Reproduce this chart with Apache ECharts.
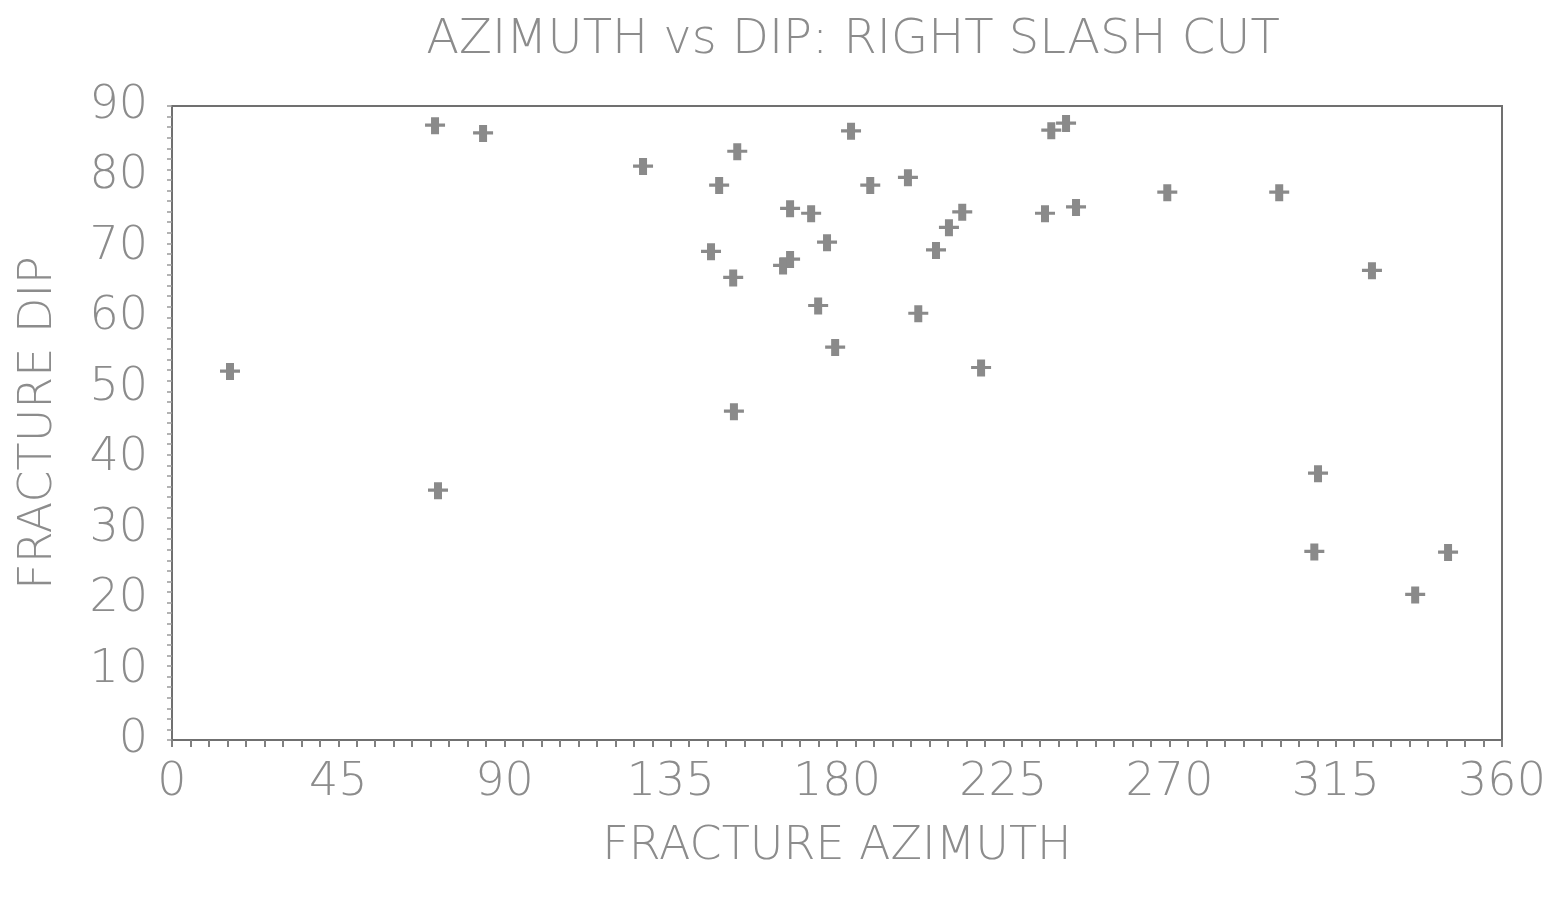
<!DOCTYPE html>
<html><head><meta charset="utf-8">
<script src="https://cdn.jsdelivr.net/npm/echarts@6/dist/echarts.min.js"></script>
<style>html,body{margin:0;padding:0;background:#fff}#c{width:1567px;height:898px}</style>
</head><body><div id="c"></div>
<script>
const azimuth = [15.7, 71.2, 84.2, 72.0, 127.5, 148.1, 153.0, 145.9, 151.9, 152.1,
  167.3, 173.0, 165.4, 167.3, 177.3, 174.9, 179.5, 183.8, 189.0, 199.2,
  206.8, 210.3, 213.9, 202.0, 219.0, 236.3, 238.0, 242.0, 244.7, 269.4,
  299.7, 324.8, 310.2, 309.2, 336.5, 345.4];
const dip = [52.3, 87.2, 86.1, 35.4, 81.4, 78.7, 83.5, 69.3, 65.6, 46.6,
  75.4, 74.7, 67.3, 68.2, 70.6, 61.6, 55.7, 86.4, 78.7, 79.8,
  69.5, 72.7, 74.9, 60.5, 52.8, 74.7, 86.5, 87.5, 75.6, 77.7,
  77.7, 66.6, 37.8, 26.7, 20.6, 26.6];
const xTickLabels = [0, 45, 90, 135, 180, 225, 270, 315, 360];
const yTickLabels = [0, 10, 20, 30, 40, 50, 60, 70, 80, 90];

const points = azimuth.map((a, i) => [a, dip[i]]);
const font = 'DejaVu Sans';
const fw = 200;
const txt = '#8c8c8c';
const chart = echarts.init(document.getElementById('c'));
chart.setOption({
  animation: false,
  backgroundColor: '#ffffff',
  title: {
    text: 'AZIMUTH vs DIP: RIGHT SLASH CUT',
    left: 848, top: 12, textAlign: 'center',
    textStyle: { fontFamily: font, fontSize: 48, fontWeight: fw, color: txt }
  },
  grid: { left: 172, right: 65, top: 106, bottom: 158, show: true,
    borderColor: '#707070', borderWidth: 2, backgroundColor: 'transparent' },
  xAxis: [{
    type: 'value', min: 0, max: 360, interval: 45,
    name: 'FRACTURE AZIMUTH', nameLocation: 'middle', nameGap: 84,
    nameTextStyle: { fontFamily: font, fontSize: 46, fontWeight: fw, color: txt },
    axisLine: { show: true, lineStyle: { color: '#707070', width: 2 } },
    axisTick: { show: false },
    axisLabel: { fontFamily: font, fontSize: 46, fontWeight: fw, color: txt, margin: 20,
      formatter: v => xTickLabels.includes(v) ? String(v) : '' },
    splitLine: { show: false }
  }, {
    type: 'value', min: 0, max: 360, interval: 5, position: 'bottom',
    axisLine: { show: false },
    axisTick: { show: true, length: 7, lineStyle: { color: '#808080', width: 2 } },
    axisLabel: { show: false }, splitLine: { show: false }
  }],
  yAxis: [{
    type: 'value', min: 0, max: 90, interval: 10,
    name: 'FRACTURE DIP', nameLocation: 'middle', nameGap: 110,
    nameTextStyle: { fontFamily: font, fontSize: 46, fontWeight: fw, color: txt },
    axisLine: { show: true, lineStyle: { color: '#707070', width: 2 } },
    axisTick: { show: false },
    axisLabel: { fontFamily: font, fontSize: 46, fontWeight: fw, color: txt, margin: 24,
      formatter: v => yTickLabels.includes(v) ? String(v) : '' },
    splitLine: { show: false }
  }, {
    type: 'value', min: 0, max: 90, interval: 1.5, position: 'left',
    axisLine: { show: false },
    axisTick: { show: true, length: 5, lineStyle: { color: '#9a9a9a', width: 1.5 } },
    axisLabel: { show: false }, splitLine: { show: false }
  }],
  series: [{
    type: 'scatter', xAxisIndex: 0, yAxisIndex: 0,
    data: points,
    symbol: 'path://M0,7 L20,7 L20,10 L0,10 Z M6,1 L14,1 L14,17 L6,17 Z',
    symbolSize: [20, 17],
    itemStyle: { color: '#8a8a8a', opacity: 1 }
  }]
});
</script></body></html>
